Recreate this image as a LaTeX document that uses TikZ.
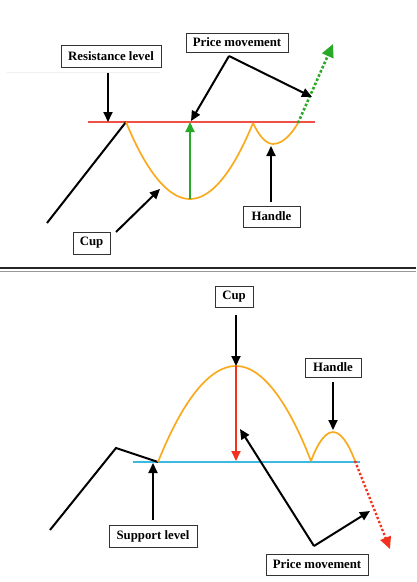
\documentclass[tikz,border=0pt]{standalone}
\usepackage{fontspec}
\setmainfont{Liberation Serif}
\usetikzlibrary{arrows.meta}
\definecolor{cuporange}{RGB}{250,170,30}
\definecolor{upgreen}{RGB}{40,170,40}
\definecolor{reslevel}{RGB}{240,80,70}
\definecolor{supcyan}{RGB}{60,185,225}
\definecolor{downred}{RGB}{240,50,30}
\tikzset{
  lbl/.style={draw=black!80, line width=1pt, fill=white, inner sep=0pt, font=\bfseries\fontsize{12.8}{14}\selectfont},
  blk/.style={line width=2pt, black},
  blkarrow/.style={blk, -{Triangle[length=10pt,width=9pt]}},
  curve/.style={line width=1.7pt, cuporange},
}
\begin{document}
\begin{tikzpicture}[x=1pt,y=-1pt]
\useasboundingbox (0,0) rectangle (416,582);
% separator
\draw[line width=2.5pt, black!85] (0,268) -- (416,268);
\draw[line width=0.6pt, black!40] (0,271) -- (416,271);
% ===== TOP PANEL =====
\draw[line width=0.6pt, black!6] (7,72) -- (160,72);
\coordinate (rl1) at (88,122);
\coordinate (rl2) at (315,122);
\draw[line width=2pt, reslevel] (rl1) -- (rl2);
\coordinate (tstart) at (47,223);
\coordinate (tcup1) at (126,122);
\coordinate (tcupb) at (190,199);
\coordinate (tcup2) at (253,123);
\coordinate (thb) at (273,144);
\coordinate (th2) at (298,123);
\draw[blk] (tstart) -- (tcup1);
\draw[curve] (tcup1) parabola bend (tcupb) (tcup2);
\draw[curve] (tcup2) parabola bend (thb) (th2);
\coordinate (gtop) at (190,122);
\draw[line width=2pt, upgreen, -{Triangle[length=10pt,width=9pt]}] (tcupb) -- (gtop);
\coordinate (gend) at (333,44);
\draw[line width=2.6pt, upgreen, dotted, -{Triangle[length=13pt,width=12pt]}] (th2) -- (gend);
% labels
\node[lbl, minimum width=100pt, minimum height=22pt] (res) at (111,56) {Resistance level};
\coordinate (resarr) at (108,122);
\draw[blkarrow] (res.south -| resarr) ++(0,5) -- (resarr);
\node[lbl, minimum width=102pt, minimum height=19pt] (pm1) at (237,42.5) {Price movement};
\coordinate (pmv) at (229,56);
\coordinate (pma) at (191,121);
\coordinate (pmb) at (312,97);
\draw[blkarrow] (pmv) -- (pma);
\draw[blkarrow] (pmv) -- (pmb);
\node[lbl, minimum width=37pt, minimum height=22pt] (cup1) at (91.5,243) {Cup};
\coordinate (cupa0) at (116,232);
\coordinate (cupa1) at (160,189);
\draw[blkarrow] (cupa0) -- (cupa1);
\node[lbl, minimum width=57pt, minimum height=21pt] (hd1) at (271.5,216.5) {Handle};
\coordinate (hda0) at (271,202);
\coordinate (hda1) at (271,146);
\draw[blkarrow] (hda0) -- (hda1);
% ===== BOTTOM PANEL =====
\coordinate (sl1) at (133,462);
\coordinate (sl2) at (360,462);
\draw[line width=1.8pt, supcyan] (sl1) -- (sl2);
\coordinate (bstart) at (50,530);
\coordinate (bpeak) at (116,448);
\coordinate (bcup1) at (158,462);
\coordinate (bcupt) at (236,366);
\coordinate (bcup2) at (311,461);
\coordinate (bht) at (333,432);
\coordinate (bh2) at (355,461);
\draw[blk] (bstart) -- (bpeak) -- (bcup1);
\draw[curve] (bcup1) parabola bend (bcupt) (bcup2);
\draw[curve] (bcup2) parabola bend (bht) (bh2);
\coordinate (rbot) at (236,461);
\draw[line width=2pt, downred, -{Triangle[length=10pt,width=9pt]}] (bcupt) -- (rbot);
\coordinate (rend) at (390,549);
\draw[line width=2.3pt, downred, dotted, -{Triangle[length=12pt,width=11pt]}] (bh2) -- (rend);
% labels
\node[lbl, minimum width=38pt, minimum height=21pt] (cup2) at (234,296.5) {Cup};
\coordinate (cupb0) at (236,315);
\coordinate (cupb1) at (236,366);
\draw[blkarrow] (cupb0) -- (cupb1);
\node[lbl, minimum width=56pt, minimum height=19pt] (hd2) at (333,367.5) {Handle};
\coordinate (hdb0) at (333,382);
\coordinate (hdb1) at (333,430);
\draw[blkarrow] (hdb0) -- (hdb1);
\node[lbl, minimum width=88pt, minimum height=22pt] (sup) at (153,536) {Support level};
\coordinate (supa0) at (153,520);
\coordinate (supa1) at (153,463);
\draw[blkarrow] (supa0) -- (supa1);
\node[lbl, minimum width=102pt, minimum height=21pt] (pm2) at (317,564.5) {Price movement};
\coordinate (pmv2) at (314,546);
\coordinate (pmc) at (240,429);
\coordinate (pmd) at (370,511);
\draw[blkarrow] (pmv2) -- (pmc);
\draw[blkarrow] (pmv2) -- (pmd);
\end{tikzpicture}
\end{document}
